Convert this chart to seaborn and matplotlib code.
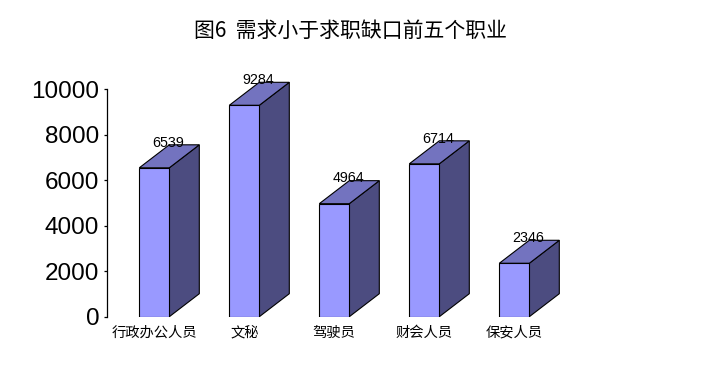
import matplotlib
matplotlib.use("Agg")
import matplotlib.pyplot as plt
from matplotlib.patches import Polygon
import seaborn as sns
import pandas as pd

categories = ["行政办公人员", "文秘", "驾驶员", "财会人员", "保安人员"]
values = [6539, 9284, 4964, 6714, 2346]
yticks = [0, 2000, 4000, 6000, 8000, 10000]
title = "图6  需求小于求职缺口前五个职业"

sns.set_theme(style="white")
plt.rcParams['font.family'] = ['Liberation Sans', 'Noto Sans CJK SC', 'DejaVu Sans']
plt.rcParams['text.color'] = 'black'
plt.rcParams['xtick.color'] = 'black'
plt.rcParams['ytick.color'] = 'black'

df = pd.DataFrame({"cat": categories, "val": values})

fig = plt.figure(figsize=(7.06, 3.66), dpi=100)
ax = fig.add_axes([107/706, 49.3/366, 513/706, 227.7/366])

front = "#9999FF"
top_c = "#7373BF"
side_c = "#4C4C80"

sns.barplot(data=df, x="cat", y="val", width=1/3, color=front, saturation=1,
            edgecolor="black", linewidth=0.8, ax=ax, zorder=3)

ax.set_xlim(-0.5256, 5.1744)
ax.set_ylim(0, 10000)

dx = 1/3
dy = 1010
for p, v in zip(ax.patches, values):
    x0 = p.get_x()
    x1 = x0 + p.get_width()
    side = Polygon([(x1, 0), (x1 + dx, dy), (x1 + dx, v + dy), (x1, v)], closed=True,
                   facecolor=side_c, edgecolor="black", linewidth=0.8, clip_on=False, zorder=2)
    top = Polygon([(x0, v), (x0 + dx, v + dy), (x1 + dx, v + dy), (x1, v)], closed=True,
                  facecolor=top_c, edgecolor="black", linewidth=0.8, clip_on=False, zorder=2)
    ax.add_patch(side)
    ax.add_patch(top)
    ax.text(x1 - 0.01, v + dy + 100, f"{v}", ha="center", va="center", fontsize=10.3,
            color="black", clip_on=False, zorder=5, family=['Liberation Sans', 'DejaVu Sans'])

for s in ["top", "right", "bottom"]:
    ax.spines[s].set_visible(False)
ax.spines["left"].set_color("black")
ax.spines["left"].set_linewidth(0.9)
ax.spines["left"].set_bounds(0, 10000)

ax.set_yticks(yticks)
ax.set_yticklabels([str(t) for t in yticks], fontsize=17.5, color="black",
                   family=['Liberation Sans', 'DejaVu Sans'])
ax.tick_params(axis="y", left=True, length=2.5, width=0.9, color="black", pad=3)
ax.tick_params(axis="x", bottom=False, labelbottom=False)
ax.set_xlabel("")
ax.set_ylabel("")

for i, c in enumerate(categories):
    ax.text(i, -880, c, ha="center", va="baseline", fontsize=10.3, color="black",
            clip_on=False, family=['Noto Sans CJK SC', 'DejaVu Sans'])

fig.text(351/706, 1 - 30.5/366, title, ha="center", va="center", fontsize=15,
         family=['Noto Sans CJK SC', 'DejaVu Sans'], color="black")

fig.savefig("out.png", dpi=100, facecolor="white")
